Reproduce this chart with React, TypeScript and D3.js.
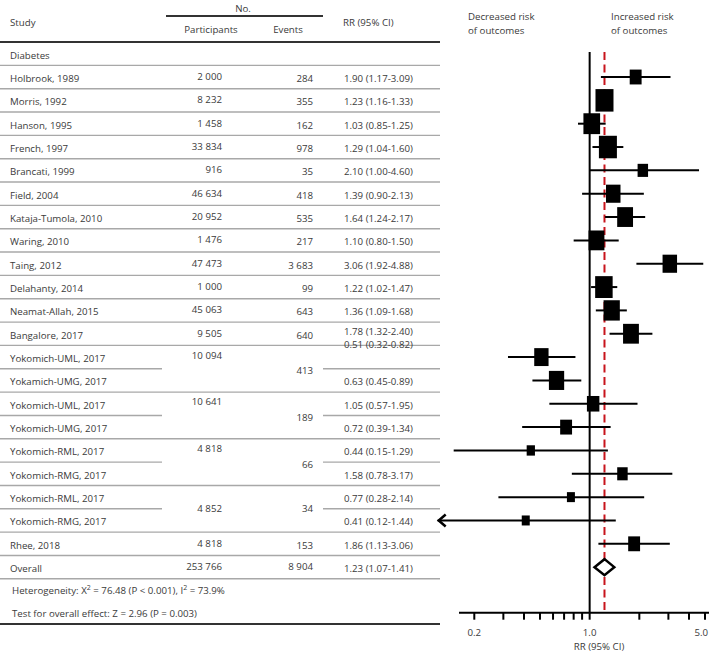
import React from "react";
import * as d3 from "d3";

// ---- data ----
const studies = [
  "Holbrook, 1989", "Morris, 1992", "Hanson, 1995", "French, 1997", "Brancati, 1999",
  "Field, 2004", "Kataja-Tumola, 2010", "Waring, 2010", "Taing, 2012", "Delahanty, 2014",
  "Neamat-Allah, 2015", "Bangalore, 2017", "Yokomich-UML, 2017", "Yokamich-UMG, 2017",
  "Yokomich-UML, 2017", "Yokomich-UMG, 2017", "Yokomich-RML, 2017", "Yokomich-RMG, 2017",
  "Yokomich-RML, 2017", "Yokomich-RMG, 2017", "Rhee, 2018",
];
// participants / events; null = merged with the row above
const participants = [2000, 8232, 1458, 33834, 916, 46634, 20952, 1476, 47473, 1000, 45063, 9505,
  10094, null, 10641, null, 4818, null, 4852, null, 4818];
const events = [284, 355, 162, 978, 35, 418, 535, 217, 3683, 99, 643, 640,
  413, null, 189, null, 66, null, 34, null, 153];
const rr = [1.90, 1.23, 1.03, 1.29, 2.10, 1.39, 1.64, 1.10, 3.06, 1.22, 1.36, 1.78,
  0.51, 0.63, 1.05, 0.72, 0.44, 1.58, 0.77, 0.41, 1.86];
const lower = [1.17, 1.16, 0.85, 1.04, 1.00, 0.90, 1.24, 0.80, 1.92, 1.02, 1.09, 1.32,
  0.32, 0.45, 0.57, 0.39, 0.15, 0.78, 0.28, 0.12, 1.13];
const upper = [3.09, 1.33, 1.25, 1.60, 4.60, 2.13, 2.17, 1.50, 4.88, 1.47, 1.68, 2.40,
  0.82, 0.89, 1.95, 1.34, 1.29, 3.17, 2.14, 1.44, 3.06];
const weights = [3.1, 7.1, 6.1, 7.1, 2.4, 4.6, 5.5, 5.5, 4.6, 6.7, 5.8, 5.5,
  4.5, 5.1, 3.4, 3.1, 1.5, 2.4, 1.4, 1.4, 3.1];
const overall = { participants: 253766, events: 8904, rr: 1.23, lower: 1.07, upper: 1.41 };
const xTicks = [0.2, 0.3, 0.4, 0.5, 0.6, 0.7, 0.8, 0.9, 1.0, 2, 3, 4, 5];
const xTickLabels = [0.2, 1.0, 5.0];

const W = 709;
const H = 653;
const FONT = "'Open Sans', 'Noto Sans', sans-serif";
const TXT = "#3a3a3a";

export default function App() {
  const nRows = 25; // Diabetes + 21 studies + overall + 2 text rows
  const y = d3.scaleLinear().domain([0, nRows]).range([42, 625.5]);
  const yc = (i: number) => y(i + 0.5);
  const x = d3.scaleLog().domain([0.2, 5]).range([474.3, 705]);
  const size = d3.scaleSqrt().domain([0, 7.1]).range([0, 22.5]);
  const fmt = (v: number) => (v >= 1000 ? d3.format(",")(v).replace(/,/g, " ") : String(v));
  const f2 = d3.format(".2f");
  const rrText = (r: number, l: number, u: number) => `${f2(r)} (${f2(l)}-${f2(u)})`;

  const axisY = 612.7;
  const plotTop = 52;

  // separator lines
  const seps: JSX.Element[] = [];
  for (let k = 1; k <= 23; k++) {
    const yy = y(k);
    const rowAbove = k - 2; // study index of row above boundary
    const within = rowAbove >= 0 && rowAbove < studies.length - 1 && participants[rowAbove + 1] === null;
    if (within) {
      seps.push(<line key={`a${k}`} x1={0} x2={162} y1={yy} y2={yy} stroke="#a8a8a8" strokeWidth={1.4} />);
      seps.push(<line key={`b${k}`} x1={323} x2={440} y1={yy} y2={yy} stroke="#a8a8a8" strokeWidth={1.4} />);
    } else {
      seps.push(<line key={`c${k}`} x1={0} x2={440} y1={yy} y2={yy} stroke="#a8a8a8" strokeWidth={1.4} />);
    }
  }

  const rows = studies.map((s, j) => {
    const i = j + 1;
    const c = yc(i);
    const merged = participants[j] !== null && participants[j + 1] === null;
    const isLastPair = merged && j === 18;
    let pY = c + 3;
    let eY = c + 5;
    if (merged) {
      if (isLastPair) {
        pY = y(i + 1) + 3.5;
        eY = y(i + 1) + 3.5;
      } else {
        pY = c + 1.5;
        eY = y(i + 1) + 5.5;
      }
    }
    let rrY = c + 5;
    if (j === 12) rrY = c - 9;
    if (j === 11) rrY = c + 1;
    return (
      <g key={j}>
        <text x={10} y={c + 5} fill={TXT}>{s}</text>
        {participants[j] !== null && (
          <text x={222} y={pY} textAnchor="end" fill={TXT}>{fmt(participants[j] as number)}</text>
        )}
        {events[j] !== null && (
          <text x={313} y={eY} textAnchor="end" fill={TXT}>{fmt(events[j] as number)}</text>
        )}
        <text x={344} y={rrY} fill={TXT}>{rrText(rr[j], lower[j], upper[j])}</text>
      </g>
    );
  });

  const marks = studies.map((s, j) => {
    const c = yc(j + 1);
    const h = size(weights[j]);
    const w = h * 0.8;
    const x1 = x(lower[j]);
    const arrow = lower[j] < 0.15;
    return (
      <g key={j}>
        <line x1={x1} x2={x(upper[j])} y1={c} y2={c} stroke="#000" strokeWidth={2} />
        {arrow && (
          <polyline
            points={`${x1 + 8},${c - 6} ${x1 + 1},${c} ${x1 + 8},${c + 6}`}
            fill="none" stroke="#000" strokeWidth={2.5}
          />
        )}
        <rect x={x(rr[j]) - w / 2} y={c - h / 2} width={w} height={h} fill="#000" />
      </g>
    );
  });

  const oc = yc(22);
  const diamond = [
    [x(overall.lower), oc], [x(overall.rr), oc - 8], [x(overall.upper), oc], [x(overall.rr), oc + 8],
  ].map((p) => p.join(",")).join(" ");

  return (
    <svg
      width={W} height={H}
      style={{ position: "absolute", left: 0, top: 0, background: "#fff" }}
      fontFamily={FONT} fontSize={9.7}
    >
      <rect width={W} height={H} fill="#fff" />
      {/* header */}
      <text x={10} y={26} fill={TXT}>Study</text>
      <text x={243} y={11.5} textAnchor="middle" fill={TXT}>No.</text>
      <line x1={166} x2={323} y1={16} y2={16} stroke="#333" strokeWidth={1.8} />
      <text x={211} y={32.5} textAnchor="middle" fill={TXT}>Participants</text>
      <text x={288} y={32.5} textAnchor="middle" fill={TXT}>Events</text>
      <text x={343} y={25.5} fill={TXT}>RR (95% CI)</text>
      <text x={468} y={19.5} fill={TXT}>Decreased risk</text>
      <text x={468} y={33.5} fill={TXT}>of outcomes</text>
      <text x={611} y={19.5} fill={TXT}>Increased risk</text>
      <text x={611} y={33.5} fill={TXT}>of outcomes</text>

      <line x1={0} x2={440} y1={y(0)} y2={y(0)} stroke="#333" strokeWidth={2} />
      <text x={10} y={yc(0) + 5} fill={TXT}>Diabetes</text>
      {seps}
      {rows}
      <text x={10} y={yc(22) + 5} fill={TXT}>Overall</text>
      <text x={222} y={yc(22) + 3} textAnchor="end" fill={TXT}>{fmt(overall.participants)}</text>
      <text x={313} y={yc(22) + 3} textAnchor="end" fill={TXT}>{fmt(overall.events)}</text>
      <text x={344} y={yc(22) + 5} fill={TXT}>{rrText(overall.rr, overall.lower, overall.upper)}</text>
      <text x={12} y={yc(23) + 4} fill={TXT}>
        Heterogeneity: X<tspan dy={-4} fontSize={7}>2</tspan><tspan dy={4}> = 76.48 (P &lt; 0.001), I</tspan>
        <tspan dy={-4} fontSize={7}>2</tspan><tspan dy={4}> = 73.9%</tspan>
      </text>
      <text x={12} y={yc(24) + 3} fill={TXT}>Test for overall effect: Z = 2.96 (P = 0.003)</text>
      <line x1={0} x2={440} y1={y(nRows) - 1.5} y2={y(nRows) - 1.5} stroke="#333" strokeWidth={2} />

      {/* forest plot */}
      <line x1={x(1)} x2={x(1)} y1={plotTop} y2={axisY} stroke="#000" strokeWidth={2} />
      <line x1={x(overall.rr)} x2={x(overall.rr)} y1={plotTop} y2={axisY} stroke="#c8141c" strokeWidth={2} strokeDasharray="8,4.5" />
      {marks}
      <polygon points={diamond} fill="#fff" stroke="#000" strokeWidth={2.5} />

      {/* axis */}
      <line x1={459} x2={709} y1={axisY} y2={axisY} stroke="#000" strokeWidth={2} />
      {xTicks.map((t) => (
        <line key={t} x1={x(t)} x2={x(t)} y1={axisY} y2={axisY + 7} stroke="#000" strokeWidth={2} />
      ))}
      {xTickLabels.map((t, k) => (
        <text
          key={t}
          x={k === xTickLabels.length - 1 ? 708 : x(t)}
          y={635.5}
          textAnchor={k === xTickLabels.length - 1 ? "end" : "middle"}
          fill={TXT}
        >
          {d3.format(".1f")(t)}
        </text>
      ))}
      <text x={599} y={649.5} textAnchor="middle" fill={TXT}>RR (95% CI)</text>
    </svg>
  );
}
